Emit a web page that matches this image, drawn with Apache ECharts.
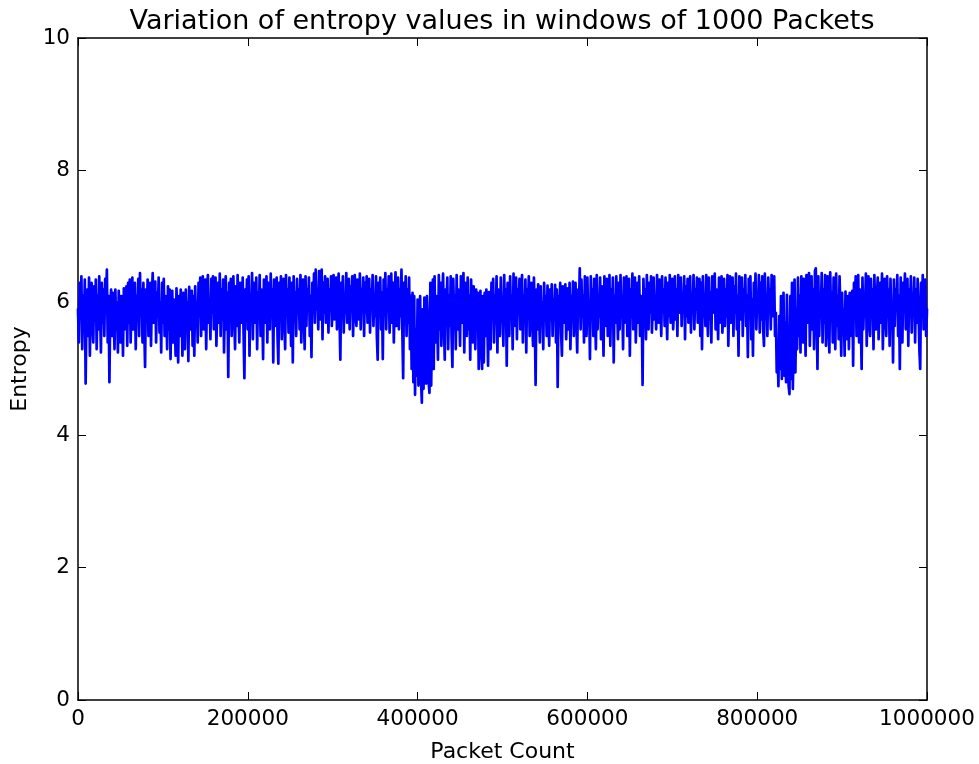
<!DOCTYPE html>
<html>
<head>
<meta charset="utf-8">
<script src="https://cdn.jsdelivr.net/npm/echarts@6/dist/echarts.min.js"></script>
<style>
html,body{margin:0;padding:0;background:#fff;}
#chart{width:979px;height:764px;}
</style>
</head>
<body>
<div id="chart"></div>
<script>
// Packets per window (one sample per window)
const STEP = 1000;
// Entropy of each window of 1000 packets
const entropy = [
5.9,5.4,6.3,5.8,6.4,5.3,6.1,5.6,6.35,4.78,5.9,6.2,5.5,6.38,5.2,6.0,6.3,5.7,5.4,6.25,
5.8,6.35,5.3,6.1,5.6,6.4,5.9,5.25,6.3,5.7,6.2,5.5,6.36,5.95,6.5,5.4,6.1,4.8,5.9,6.2,
5.5,6.15,5.8,5.3,6.2,5.6,6.0,5.25,6.18,5.7,5.4,6.1,5.9,5.2,6.22,5.6,5.8,6.25,5.35,6.3,
5.7,6.35,5.4,6.0,6.38,5.6,5.9,6.3,5.3,6.1,5.75,6.36,5.5,6.45,5.85,6.2,5.4,6.3,5.65,5.03,
6.2,5.8,6.35,5.5,6.0,6.3,5.35,6.1,6.45,5.7,5.9,6.32,5.4,6.15,5.8,6.38,5.55,6.0,5.25,6.3,
5.7,6.36,5.5,6.1,5.9,5.3,6.25,5.6,6.2,5.15,5.9,6.18,5.4,6.05,5.7,5.2,6.22,5.8,5.1,6.1,
5.5,6.2,5.9,5.2,6.15,5.65,5.3,6.2,5.8,6.0,5.12,6.24,5.6,5.9,6.18,5.35,6.1,5.2,6.25,5.7,
6.0,5.4,6.3,5.8,6.38,5.5,6.1,6.4,5.6,5.9,6.35,5.3,6.2,6.42,5.7,6.0,5.45,6.36,5.85,6.4,
5.6,6.1,6.38,5.35,5.9,6.3,5.7,6.44,5.5,6.2,5.8,6.35,5.25,6.0,6.4,5.6,6.15,4.88,6.3,5.75,
6.36,5.5,6.0,6.4,5.8,5.3,6.25,5.65,6.42,5.9,5.4,6.3,6.1,5.7,6.38,5.55,4.86,6.2,5.85,6.35,
5.6,6.4,5.2,6.1,5.9,6.45,5.45,6.3,5.7,6.0,6.38,5.3,6.15,5.8,6.42,5.5,6.2,5.95,5.15,6.35,
5.7,6.05,6.4,5.4,6.3,5.85,5.6,6.44,5.9,6.2,5.1,6.35,5.65,6.0,6.38,5.5,5.08,6.3,5.8,6.4,
5.45,6.1,6.36,5.7,5.3,6.42,5.9,6.2,5.55,6.38,6.0,5.35,6.3,5.1,6.4,5.75,6.15,5.5,6.36,5.9,
6.2,5.6,6.42,5.4,6.05,6.35,5.8,5.3,6.4,5.65,6.2,5.95,6.38,5.5,6.1,5.18,6.3,5.85,6.44,5.7,
6.5,5.9,6.2,5.6,6.48,5.75,6.1,6.5,5.45,6.3,5.85,6.4,5.7,6.0,6.36,5.55,6.2,5.9,6.4,5.65,
6.1,6.42,5.75,5.95,6.38,5.6,6.2,6.44,5.8,5.14,6.3,5.9,6.4,5.55,6.1,5.85,6.45,5.7,6.0,6.36,
5.6,6.25,5.9,6.4,5.5,6.1,6.42,5.8,5.65,6.35,6.0,5.75,6.44,5.6,6.2,5.95,6.38,5.5,6.3,5.85,
6.4,5.7,6.05,6.36,5.55,6.2,5.9,6.42,5.65,6.1,5.8,6.4,5.5,5.14,6.3,5.95,6.38,5.6,6.15,5.15,
6.35,5.85,6.45,5.6,6.2,5.9,6.4,5.55,6.0,6.44,5.7,6.3,5.4,6.1,6.46,5.65,5.9,6.38,5.6,6.2,
5.8,6.5,5.6,4.86,6.3,5.9,6.4,5.5,6.2,5.7,6.38,5.3,6.1,5.0,6.15,4.8,6.1,4.61,5.6,4.9,
6.05,4.75,5.5,6.1,4.85,4.49,5.9,4.7,6.08,5.2,4.78,6.1,5.7,4.8,4.64,6.3,4.75,5.8,6.35,5.0,
6.4,5.4,6.1,5.85,5.14,6.42,5.6,6.3,5.35,6.0,6.44,5.7,5.14,6.2,5.9,6.38,5.3,6.1,5.65,6.4,
5.5,5.03,6.36,5.8,6.1,5.3,6.42,5.6,6.2,5.9,5.35,6.4,5.7,6.0,6.45,5.25,6.3,5.85,5.5,6.38,
5.6,6.1,5.14,6.35,5.8,5.4,6.25,5.9,5.3,6.2,5.6,6.15,5.0,5.9,6.18,5.25,5.0,6.1,5.1,6.15,
5.5,6.2,5.85,5.05,6.16,5.6,5.3,6.3,5.9,6.36,5.4,6.1,5.7,6.4,5.25,6.2,5.95,5.5,6.38,5.8,
6.0,5.35,6.42,5.7,6.2,5.05,6.3,5.9,5.5,6.4,5.8,6.1,5.3,6.44,5.65,6.0,6.38,5.45,6.2,5.9,
6.36,5.6,5.95,6.42,5.4,6.1,5.8,6.35,5.25,6.2,5.9,6.4,5.5,6.05,6.3,5.7,5.35,6.38,5.8,4.76,
6.2,5.6,6.28,5.9,5.4,6.25,5.7,6.0,5.3,6.3,5.85,6.1,5.5,6.26,5.95,5.35,6.2,5.75,6.28,5.5,
6.05,5.8,6.27,5.4,6.2,4.73,6.1,5.9,6.3,5.55,5.2,6.25,5.7,6.0,6.28,5.45,5.9,6.22,5.6,6.3,
5.3,6.1,5.8,6.32,5.5,6.0,6.3,5.7,5.25,6.2,5.9,6.52,5.6,6.35,5.8,6.1,5.4,6.4,5.95,5.5,
6.38,5.7,6.0,5.15,6.4,5.85,6.2,5.5,6.36,5.9,5.3,6.42,5.6,6.1,5.8,6.38,5.45,6.25,5.9,5.2,
6.4,5.65,6.05,6.36,5.5,5.9,6.42,5.35,6.2,5.8,6.38,5.1,6.1,5.7,6.4,5.95,5.45,6.3,5.6,6.42,
5.85,6.1,5.3,6.38,5.7,6.0,6.4,5.5,5.9,6.36,5.2,6.2,5.8,6.44,5.6,6.05,6.38,5.4,5.95,6.3,
5.7,6.4,5.5,6.1,5.9,4.76,6.36,5.8,6.2,5.45,6.42,5.95,5.6,6.3,5.85,6.4,5.55,6.0,6.38,5.75,
6.1,5.6,6.42,5.9,5.7,6.35,6.0,5.5,6.4,5.85,6.2,5.65,6.38,5.95,5.45,6.3,5.8,6.42,5.7,6.05,
6.36,5.6,5.9,6.4,5.75,6.2,5.5,6.42,5.85,6.0,6.38,5.65,6.15,5.9,6.4,5.45,6.25,5.8,6.36,5.7,
5.95,6.4,5.55,6.1,5.85,6.42,5.6,6.2,5.9,6.38,5.7,6.0,6.36,5.5,6.3,5.3,6.4,5.8,6.1,5.65,
6.42,5.9,5.5,6.38,5.75,6.15,5.4,6.4,5.85,6.0,6.44,5.6,6.2,5.95,5.45,6.38,5.7,6.1,6.4,5.55,
5.9,6.36,5.65,6.2,5.8,6.42,5.35,6.05,6.4,5.7,5.95,6.38,5.5,6.25,5.85,6.44,5.6,6.1,5.2,6.4,
5.75,6.0,6.38,5.5,6.2,5.9,6.42,5.65,6.1,5.18,6.36,5.8,6.4,5.45,6.05,5.2,6.3,5.85,6.44,5.6,
6.15,5.9,6.42,5.55,6.3,5.75,6.4,5.6,5.35,6.44,5.85,6.1,5.5,6.38,5.95,6.2,5.6,6.42,5.8,6.0,
6.4,5.5,5.85,4.95,5.3,4.74,5.8,5.0,6.1,4.85,5.5,6.15,4.9,5.7,4.8,6.12,5.2,4.75,4.62,6.1,
4.85,6.3,4.7,5.6,6.35,4.95,5.9,5.3,6.38,5.5,6.1,5.25,6.4,5.8,5.4,6.36,5.95,5.2,6.42,5.7,
6.0,6.45,5.35,5.9,6.4,5.6,6.2,5.3,6.48,6.52,5.8,5.0,6.4,5.5,6.1,5.9,6.45,5.4,6.2,5.7,
6.42,5.35,6.0,6.4,5.6,5.25,6.46,5.8,6.15,5.4,6.38,5.9,5.3,6.44,5.65,6.1,5.45,6.4,5.85,5.2,
6.15,5.6,5.9,5.2,6.17,5.45,5.8,6.1,5.3,6.15,5.7,5.5,6.18,5.05,6.3,5.85,6.4,5.5,6.0,6.42,
5.4,6.2,5.8,5.0,6.38,5.6,6.1,5.9,6.44,5.35,6.0,6.4,5.7,5.5,6.36,5.85,6.2,5.3,6.42,5.9,
5.6,6.1,6.38,5.45,5.95,6.3,5.7,6.44,5.3,6.05,6.36,5.8,5.5,6.4,5.9,6.2,5.35,6.36,5.75,6.0,
5.1,6.35,5.65,6.2,5.9,6.42,5.5,6.1,5.0,6.38,5.8,5.4,6.3,5.95,6.44,5.6,6.0,6.36,5.35,6.2,
5.85,6.4,5.55,6.1,5.9,6.38,5.4,6.2,5.7,6.36,5.95,5.3,5.0,6.3,5.8,6.42,5.6,6.1,6.35,5.5,5.9
];
const xTicks = [0, 200000, 400000, 600000, 800000, 1000000];
const yTicks = [0, 2, 4, 6, 8, 10];

const TITLE = 'Variation of entropy values in windows of 1000 Packets';
const XNAME = 'Packet Count';
const YNAME = 'Entropy';

const FONT = 'DejaVu Sans';
const points = entropy.map((v, i) => [i * STEP, v]);

const chart = echarts.init(document.getElementById('chart'), null, {renderer: 'canvas'});
const axisLineStyle = {show: true, onZero: false, lineStyle: {color: '#000', width: 1.5}};
const tickIn = {show: true, inside: true, length: 8, lineStyle: {color: '#000', width: 1}};
const labelStyle = {color: '#000', fontFamily: FONT, fontSize: 21.5, formatter: v => String(v)};
const nameStyle = {color: '#000', fontFamily: FONT, fontSize: 22};

chart.setOption({
  animation: false,
  backgroundColor: '#fff',
  title: {
    text: TITLE,
    left: 497,
    top: 3,
    textAlign: 'center',
    textStyle: {color: '#000', fontFamily: FONT, fontSize: 27, fontWeight: 'normal'}
  },
  grid: {left: 78, right: 52, top: 38, bottom: 64, containLabel: false, outerBoundsMode: 'none'},
  xAxis: [{
    type: 'value', min: xTicks[0], max: xTicks[xTicks.length - 1], interval: xTicks[1] - xTicks[0],
    position: 'bottom',
    axisLine: axisLineStyle, axisTick: tickIn, splitLine: {show: false},
    axisLabel: Object.assign({margin: 8}, labelStyle),
    name: XNAME, nameLocation: 'middle', nameGap: 41,
    nameTextStyle: nameStyle
  }, {
    type: 'value', min: xTicks[0], max: xTicks[xTicks.length - 1], interval: xTicks[1] - xTicks[0],
    position: 'top',
    axisLine: axisLineStyle, axisTick: tickIn, splitLine: {show: false},
    axisLabel: {show: false}
  }],
  yAxis: [{
    type: 'value', min: yTicks[0], max: yTicks[yTicks.length - 1], interval: yTicks[1] - yTicks[0],
    position: 'left',
    axisLine: axisLineStyle, axisTick: tickIn, splitLine: {show: false},
    axisLabel: Object.assign({margin: 8}, labelStyle),
    name: YNAME, nameLocation: 'middle', nameGap: 42, nameRotate: 90,
    nameTextStyle: nameStyle
  }, {
    type: 'value', min: yTicks[0], max: yTicks[yTicks.length - 1], interval: yTicks[1] - yTicks[0],
    position: 'right',
    axisLine: axisLineStyle, axisTick: tickIn, splitLine: {show: false},
    axisLabel: {show: false}
  }],
  series: [{
    type: 'line',
    xAxisIndex: 0, yAxisIndex: 0,
    data: points,
    showSymbol: false,
    symbol: 'none',
    sampling: false,
    lineStyle: {color: '#0000ff', width: 2.7, join: 'round', cap: 'round'},
    emphasis: {disabled: true},
    silent: true
  }]
});
</script>
</body>
</html>
